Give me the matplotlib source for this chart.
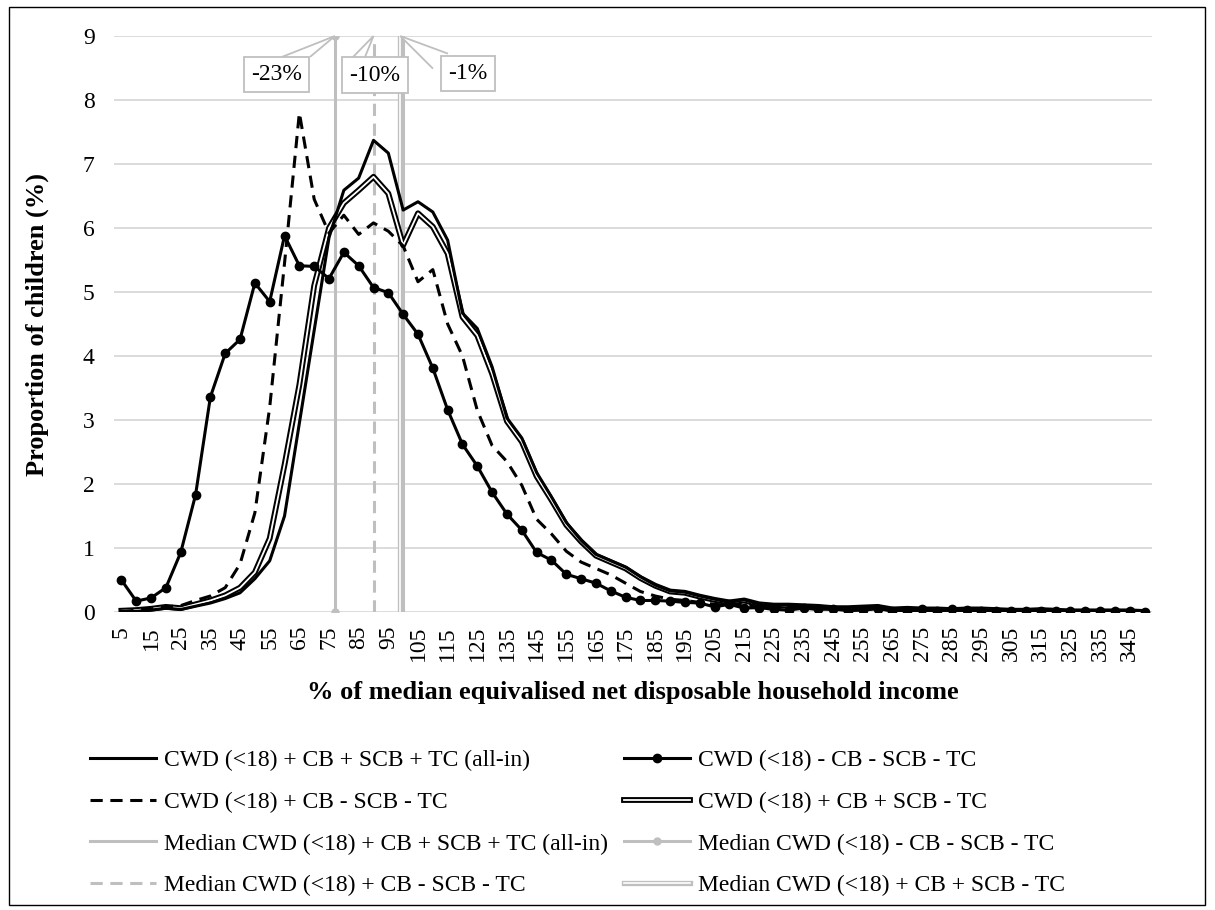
import numpy as np
import matplotlib
matplotlib.use("Agg")
import matplotlib.pyplot as plt
from matplotlib.lines import Line2D
from matplotlib.patches import Rectangle, Polygon

plt.rcParams['font.family'] = ['Liberation Serif', 'DejaVu Serif']

# % of median income bands (5 .. 350)
categories = list(range(5, 355, 5))

# CWD (<18) + CB + SCB + TC (all-in)
all_in = [0.01, 0.01, 0.03, 0.06, 0.04, 0.09, 0.14, 0.21, 0.30, 0.52,
          0.80, 1.50, 2.95, 4.40, 5.85, 6.59, 6.78, 7.37, 7.17, 6.28,
          6.41, 6.25, 5.81, 4.67, 4.43, 3.83, 3.03, 2.72, 2.18, 1.80,
          1.40, 1.12, 0.90, 0.80, 0.70, 0.55, 0.42, 0.33, 0.31, 0.25,
          0.20, 0.15, 0.19, 0.12, 0.10, 0.11, 0.09, 0.08, 0.06, 0.06,
          0.07, 0.08, 0.04, 0.05, 0.04, 0.04, 0.03, 0.04, 0.04, 0.03,
          0.02, 0.02, 0.03, 0.02, 0.01, 0.01, 0.01, 0.01, 0.01, 0.00]

# CWD (<18) - CB - SCB - TC
no_cb = [0.50, 0.17, 0.22, 0.38, 0.93, 1.83, 3.36, 4.04, 4.26, 5.14,
         4.85, 5.88, 5.41, 5.40, 5.21, 5.62, 5.41, 5.07, 4.99, 4.65,
         4.34, 3.81, 3.16, 2.62, 2.28, 1.87, 1.53, 1.28, 0.93, 0.81,
         0.59, 0.52, 0.45, 0.33, 0.23, 0.18, 0.18, 0.17, 0.15, 0.14,
         0.08, 0.12, 0.06, 0.07, 0.04, 0.03, 0.06, 0.04, 0.05, 0.02,
         0.03, 0.05, 0.02, 0.02, 0.04, 0.02, 0.04, 0.03, 0.01, 0.02,
         0.01, 0.01, 0.01, 0.01, 0.01, 0.01, 0.01, 0.01, 0.01, 0.00]

# CWD (<18) + CB - SCB - TC
cb_only = [0.00, 0.03, 0.05, 0.08, 0.10, 0.18, 0.25, 0.38, 0.75, 1.55,
           3.20, 5.45, 7.80, 6.45, 5.92, 6.20, 5.90, 6.08, 5.95, 5.72,
           5.16, 5.35, 4.50, 4.00, 3.15, 2.60, 2.35, 1.98, 1.45, 1.22,
           0.95, 0.78, 0.68, 0.58, 0.45, 0.32, 0.25, 0.20, 0.18, 0.15,
           0.12, 0.10, 0.12, 0.08, 0.07, 0.08, 0.06, 0.05, 0.05, 0.04,
           0.05, 0.06, 0.03, 0.03, 0.03, 0.02, 0.03, 0.03, 0.02, 0.02,
           0.01, 0.01, 0.01, 0.01, 0.01, 0.01, 0.01, 0.01, 0.01, 0.00]

# CWD (<18) + CB + SCB - TC
cb_scb = [0.02, 0.03, 0.05, 0.08, 0.06, 0.12, 0.18, 0.26, 0.38, 0.62,
          1.15, 2.30, 3.55, 5.10, 6.00, 6.39, 6.59, 6.80, 6.54, 5.73,
          6.23, 6.02, 5.60, 4.61, 4.32, 3.72, 2.98, 2.66, 2.12, 1.75,
          1.36, 1.10, 0.88, 0.78, 0.68, 0.53, 0.41, 0.32, 0.30, 0.24,
          0.19, 0.15, 0.18, 0.12, 0.10, 0.10, 0.09, 0.08, 0.06, 0.06,
          0.07, 0.08, 0.04, 0.05, 0.04, 0.04, 0.03, 0.04, 0.04, 0.03,
          0.02, 0.02, 0.03, 0.02, 0.01, 0.01, 0.01, 0.01, 0.01, 0.00]

# medians (as % of all-in median) and their callout labels
median_all_in = 100
median_no_cb = 77
median_cb_only = 90
median_cb_scb = 99
callouts = ["-23%", "-10%", "-1%"]

GREY = '#BFBFBF'
GRID = '#D9D9D9'
FS = 17

x = np.arange(len(categories))


def to_x(v):
    # median value -> position on the category axis
    return (v - categories[0]) / (categories[1] - categories[0])


fig = plt.figure(figsize=(12.15, 9.10), dpi=100)
ax = fig.add_axes([114 / 1215, 1 - 612 / 910, (1152 - 114) / 1215, (612 - 36) / 910])
ax.set_xlim(-0.5, len(categories) - 0.5)
ax.set_ylim(0, 9)

# median vertical lines (behind the series)
ax.plot([to_x(median_all_in)] * 2, [0, 9], color=GREY, lw=2.2, zorder=2)
ax.plot([to_x(median_no_cb)] * 2, [0, 9], color=GREY, lw=2.2, marker='o', ms=5, zorder=2)
ax.plot([to_x(median_cb_only)] * 2, [0, 9], color=GREY, lw=2.2, ls=(0, (4, 2.5)), zorder=2)
ax.plot([to_x(median_cb_scb)] * 2, [0, 9], color=GREY, lw=3.8, zorder=2)
ax.plot([to_x(median_cb_scb)] * 2, [0, 9], color='white', lw=1.2, zorder=2)

# series
ax.plot(x, cb_scb, color='black', lw=4.2, zorder=3)
ax.plot(x, cb_scb, color='white', lw=1.3, zorder=3)
ax.plot(x, cb_only, color='black', lw=2.2, ls=(0, (4, 2.5)), zorder=4)
ax.plot(x, no_cb, color='black', lw=2.2, marker='o', ms=6, zorder=4)
ax.plot(x, all_in, color='black', lw=2.2, zorder=5)

# callouts: box centre (category pos, value) and the pixel offsets of the wedge base
boxes = [(to_x(median_no_cb), 10.46, 8.40, callouts[0], [(5.5, -17.5), (33.5, -17.5)]),
         (to_x(median_cb_only), 17.1, 8.39, callouts[1], [(-22, -18), (-10, -18)]),
         (to_x(median_cb_scb), 23.37, 8.42, callouts[2], [(-35, -4.5), (-20, -19.5)])]
inv = ax.transData.inverted()
for px, bx, by, txt, base in boxes:
    cx, cy = ax.transData.transform((bx, by))
    b1 = inv.transform((cx + base[0][0], cy - base[0][1]))
    b2 = inv.transform((cx + base[1][0], cy - base[1][1]))
    ax.add_patch(Polygon([b1, (px, 9), b2], closed=False, fc='white', ec=GREY,
                         lw=1.3, zorder=6, clip_on=False))
    ax.text(bx, by, txt, ha='center', va='center', fontsize=FS, zorder=7,
            bbox=dict(boxstyle='square,pad=0.3', fc='white', ec=GREY, lw=1.3))

ax.set_yticks(range(0, 10))
ax.set_xticks(x[::2])
ax.set_xticklabels([str(c) for c in categories[::2]], rotation=90)
ax.tick_params(axis='both', length=0, labelsize=FS)
ax.tick_params(axis='y', pad=14)
ax.tick_params(axis='x', pad=10)
ax.grid(axis='y', color=GRID, lw=1.3, zorder=0)
ax.set_axisbelow(True)
for s in ax.spines.values():
    s.set_visible(False)

ax.set_ylabel('Proportion of children (%)', fontsize=19, fontweight='bold', labelpad=24)
ax.set_xlabel('% of median equivalised net disposable household income',
              fontsize=19, fontweight='bold', labelpad=14)

# legend: two separate columns, rows ordered like the original
h_all = Line2D([], [], color='black', lw=2.2)
h_no = Line2D([], [], color='black', lw=2.2, marker='o', ms=6)
h_cb = Line2D([], [], color='black', lw=2.2, ls=(0, (4, 2.5)))
h_scb = (Line2D([], [], color='black', lw=4.2), Line2D([], [], color='white', lw=1.3))
m_all = Line2D([], [], color=GREY, lw=2.2)
m_no = Line2D([], [], color=GREY, lw=2.2, marker='o', ms=5)
m_cb = Line2D([], [], color=GREY, lw=2.2, ls=(0, (4, 2.5)))
m_scb = (Line2D([], [], color=GREY, lw=3.8), Line2D([], [], color='white', lw=1.2))

col1 = ([h_all, h_cb, m_all, m_cb],
        ['CWD (<18) + CB + SCB + TC (all-in)',
         'CWD (<18) + CB - SCB - TC',
         'Median CWD (<18) + CB + SCB + TC (all-in)',
         'Median CWD (<18) + CB - SCB - TC'])
col2 = ([h_no, h_scb, m_no, m_scb],
        ['CWD (<18) - CB - SCB - TC',
         'CWD (<18) + CB + SCB - TC',
         'Median CWD (<18) - CB - SCB - TC',
         'Median CWD (<18) + CB + SCB - TC'])
for (hs, ls), x0 in [(col1, 90), (col2, 624)]:
    fig.legend(hs, ls, loc='upper left', bbox_to_anchor=(x0 / 1215, 1 - 750 / 910),
               frameon=False, fontsize=FS, handlelength=2.8, handletextpad=0.34,
               labelspacing=0.85, borderpad=0, borderaxespad=0)

# outer chart border
fig.patches.append(Rectangle((9 / 1215, 5 / 910), 1196 / 1215, 898 / 910,
                             transform=fig.transFigure, fill=False, ec='black', lw=1))

fig.savefig('out.png', dpi=100)
